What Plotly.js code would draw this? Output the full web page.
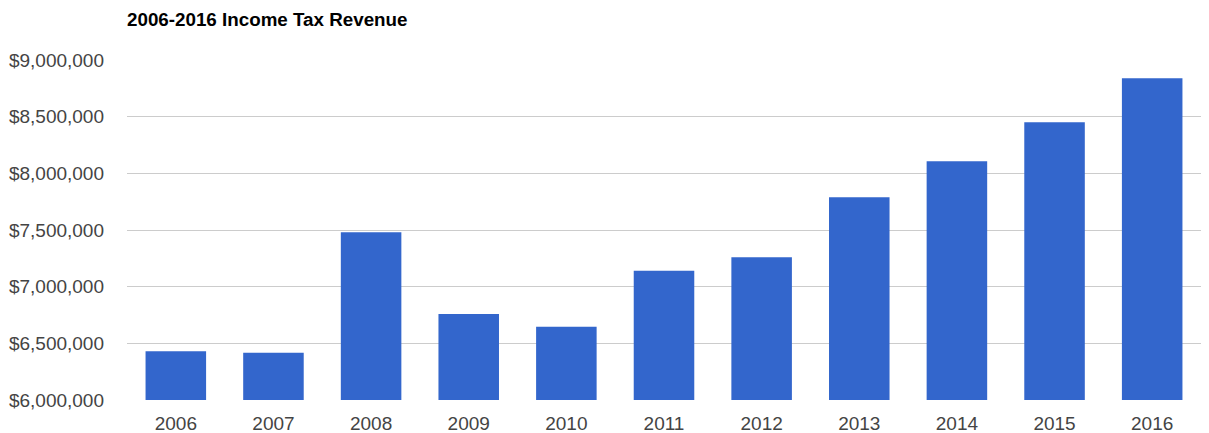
<!DOCTYPE html>
<html><head><meta charset="utf-8">
<script src="https://cdn.plot.ly/plotly-3.0.1.min.js"></script>
<style>html,body{margin:0;padding:0;background:#fff}#chart{width:1209px;height:433px}</style>
</head><body><div id="chart"></div>
<script>
const years = ['2006','2007','2008','2009','2010','2011','2012','2013','2014','2015','2016'];
const revenue = [6430000, 6417000, 7480000, 6759000, 6647000, 7141000, 7259000, 7788000, 8106000, 8450000, 8838000];
const yTickVals = [6000000, 6500000, 7000000, 7500000, 8000000, 8500000, 9000000];
const yTickText = ['$6,000,000','$6,500,000','$7,000,000','$7,500,000','$8,000,000','$8,500,000','$9,000,000'];

Plotly.newPlot('chart', [{
  type: 'bar', x: years, y: revenue,
  marker: {color: '#3366cc'},
  hoverinfo: 'x+y'
}], {
  width: 1209, height: 433,
  margin: {l: 127, r: 8, t: 60, b: 33},
  paper_bgcolor: '#fff', plot_bgcolor: '#fff',
  bargap: 0.38,
  showlegend: false,
  title: {text: '2006-2016 Income Tax Revenue', xref: 'container', yref: 'container',
          x: 127/1209, xanchor: 'left', y: 1 - 19/433, yanchor: 'middle',
          font: {family: 'Arial, Liberation Sans, sans-serif', size: 18.8, color: '#000', weight: 'bold'}},
  font: {family: 'Arial, Liberation Sans, sans-serif', size: 19, color: '#444'},
  xaxis: {type: 'category', showgrid: false, zeroline: false, showline: false, ticks: '',
          ticklabelstandoff: 10, tickfont: {size: 19, color: '#444'}, fixedrange: true},
  yaxis: {range: [6000000, 9000000], tickvals: yTickVals, ticktext: yTickText,
          showgrid: true, gridcolor: '#cccccc', gridwidth: 1, zeroline: false, showline: false,
          ticks: '', ticklabelstandoff: 22, tickfont: {size: 19, color: '#444'}, fixedrange: true}
}, {displayModeBar: false, staticPlot: true});
</script></body></html>
